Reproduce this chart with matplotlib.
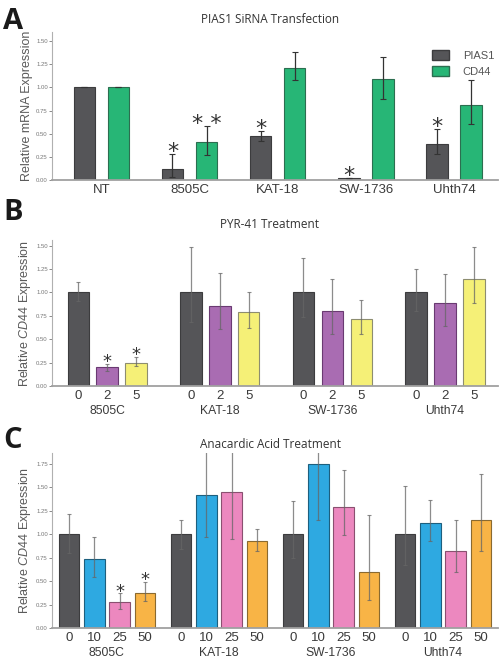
import numpy as np
import matplotlib
matplotlib.use("Agg")
import matplotlib.pyplot as plt
from matplotlib.patches import Patch

plt.rcParams["font.family"] = ["Liberation Sans", "DejaVu Sans"]
plt.rcParams["mathtext.fontset"] = "custom"
plt.rcParams["mathtext.rm"] = "Liberation Sans"
plt.rcParams["mathtext.it"] = "Liberation Sans:italic"

# Panel A: PIAS1 siRNA transfection
groups_a = ["NT", "8505C", "KAT-18", "SW-1736", "Uhth74"]
pias1 = [1.0, 0.12, 0.48, 0.025, 0.39]
pias1_lo = [0.0, 0.085, 0.06, 0.0, 0.11]
pias1_hi = [0.0, 0.16, 0.05, 0.0, 0.16]
pias1_sig = ["", "*", "*", "*", "*"]
cd44 = [1.0, 0.41, 1.21, 1.09, 0.81]
cd44_lo = [0.0, 0.14, 0.13, 0.22, 0.21]
cd44_hi = [0.0, 0.17, 0.17, 0.24, 0.27]
cd44_sig = ["", "* *", "", "", ""]

# Panel B: PYR-41 treatment (doses 0, 2, 5)
groups_bc = ["8505C", "KAT-18", "SW-1736", "Uhth74"]
doses_b = ["0", "2", "5"]
pyr_0 = [1.0, 1.0, 1.0, 1.0]
pyr_0_lo = [0.09, 0.315, 0.26, 0.20]
pyr_0_hi = [0.11, 0.49, 0.37, 0.245]
pyr_2 = [0.20, 0.85, 0.80, 0.89]
pyr_2_lo = [0.04, 0.24, 0.24, 0.25]
pyr_2_hi = [0.035, 0.36, 0.34, 0.31]
pyr_5 = [0.25, 0.79, 0.715, 1.14]
pyr_5_lo = [0.04, 0.175, 0.155, 0.25]
pyr_5_hi = [0.06, 0.21, 0.205, 0.34]
pyr_sig = [["", "", "", ""], ["*", "", "", ""], ["*", "", "", ""]]

# Panel C: anacardic acid treatment (doses 0, 10, 25, 50)
doses_c = ["0", "10", "25", "50"]
ana_0 = [1.0, 1.0, 1.0, 1.0]
ana_0_lo = [0.20, 0.16, 0.25, 0.33]
ana_0_hi = [0.21, 0.15, 0.35, 0.51]
ana_10 = [0.74, 1.42, 1.745, 1.12]
ana_10_lo = [0.19, 0.445, 0.595, 0.19]
ana_10_hi = [0.235, 0.48, 0.30, 0.245]
ana_25 = [0.28, 1.45, 1.29, 0.82]
ana_25_lo = [0.08, 0.50, 0.30, 0.22]
ana_25_hi = [0.09, 0.45, 0.39, 0.33]
ana_50 = [0.38, 0.93, 0.60, 1.15]
ana_50_lo = [0.09, 0.11, 0.30, 0.33]
ana_50_hi = [0.11, 0.13, 0.60, 0.49]
ana_sig = [["", "", "", ""], ["", "", "", ""], ["*", "", "", ""], ["*", "", "", ""]]

gray = "#555558"
text_col = "#3a3a3a"


def style_axes(ax, ymax, yticks):
    ax.set_ylim(0, ymax)
    ax.set_yticks(yticks)
    ax.set_yticklabels(["%.2f" % t for t in yticks])
    for s in ["top", "right"]:
        ax.spines[s].set_visible(False)
    ax.spines["left"].set_color("#b0b0b0")
    ax.spines["bottom"].set_color("#a0a0a0")
    ax.spines["bottom"].set_linewidth(1.3)
    ax.tick_params(axis="y", labelsize=4.3, colors="#777777", length=2, width=0.6, pad=1)
    ax.tick_params(axis="x", length=0, pad=3)


def draw_bars(ax, x, vals, lo, hi, sig, width, color, edge, ecol, ealpha, cap, star_size):
    ax.bar(x, vals, width, color=color, edgecolor=edge, linewidth=0.8, zorder=2)
    ax.errorbar(x, vals, yerr=[lo, hi], fmt="none", ecolor=ecol, alpha=ealpha,
                elinewidth=0.9, capsize=cap, capthick=0.8, zorder=3)
    for xi, v, h, s in zip(x, vals, hi, sig):
        if s:
            ax.text(xi, v + h + 0.02, s, ha="center", va="center", fontsize=star_size,
                    color="#333333", family="DejaVu Sans")


fig = plt.figure(figsize=(5, 6.59), dpi=100)

# ---- Panel A ----
ax_a = fig.add_axes([0.104, 0.7269, 0.892, 0.2246])
xa = np.arange(len(groups_a))
draw_bars(ax_a, xa - 0.193, pias1, pias1_lo, pias1_hi, pias1_sig, 0.244,
          gray, "#3c3c3e", "#333333", 1.0, 2, 16)
draw_bars(ax_a, xa + 0.193, cd44, cd44_lo, cd44_hi, cd44_sig, 0.244,
          "#27b676", "#2c6e50", "#333333", 1.0, 2, 16)
ax_a.set_xlim(-0.56, 4.5)
style_axes(ax_a, 1.6, np.arange(0, 1.51, 0.25))
ax_a.set_xticks(xa)
ax_a.set_xticklabels(groups_a, fontsize=9.5, color=text_col)
ax_a.set_ylabel("Relative mRNA Expression", fontsize=9, color="#5a5a5a", labelpad=2)
ax_a.legend(handles=[Patch(facecolor=gray, edgecolor="#3c3c3e", label="PIAS1"),
                     Patch(facecolor="#27b676", edgecolor="#2c6e50", label="CD44")],
            loc="upper left", bbox_to_anchor=(0.84, 0.915), frameon=False, fontsize=8,
            handlelength=1.55, handleheight=1.05, handletextpad=1.2, labelspacing=0.45,
            borderpad=0, labelcolor="#555555")

# ---- Panel B ----
ax_b = fig.add_axes([0.104, 0.4143, 0.892, 0.2215])
xb = np.arange(len(groups_bc))
b_series = [(pyr_0, pyr_0_lo, pyr_0_hi, gray, "#3c3c3e"),
            (pyr_2, pyr_2_lo, pyr_2_hi, "#a96cb2", "#6a3a72"),
            (pyr_5, pyr_5_lo, pyr_5_hi, "#f5f077", "#8d8d70")]
offs_b = (np.arange(3) - 1) * 0.257
for i, (v, lo, hi, c, e) in enumerate(b_series):
    draw_bars(ax_b, xb + offs_b[i], v, lo, hi, pyr_sig[i], 0.19, c, e, "#666666", 0.75, 1.5, 13)
ax_b.set_xlim(-0.49, 3.47)
style_axes(ax_b, 1.56, np.arange(0, 1.51, 0.25))
ax_b.set_xticks((xb[:, None] + offs_b[None, :]).ravel())
ax_b.set_xticklabels(doses_b * len(groups_bc), fontsize=9.5, color=text_col)
for xi, g in zip(xb, groups_bc):
    ax_b.annotate(g, xy=(xi, 0), xycoords=("data", "axes fraction"), xytext=(0, -18),
                  textcoords="offset points", ha="center", va="center", fontsize=8.7,
                  color=text_col)
ax_b.set_ylabel(r"Relative $\mathit{CD44}$ Expression", fontsize=9, color="#5a5a5a", labelpad=2)

# ---- Panel C ----
ax_c = fig.add_axes([0.104, 0.0466, 0.892, 0.2656])
c_series = [(ana_0, ana_0_lo, ana_0_hi, gray, "#3c3c3e"),
            (ana_10, ana_10_lo, ana_10_hi, "#2ea9e1", "#1d5f7e"),
            (ana_25, ana_25_lo, ana_25_hi, "#ec88bf", "#8a5070"),
            (ana_50, ana_50_lo, ana_50_hi, "#f8b446", "#8a6a30")]
offs_c = (np.arange(4) - 1.5) * 0.226
for i, (v, lo, hi, c, e) in enumerate(c_series):
    draw_bars(ax_c, xb + offs_c[i], v, lo, hi, ana_sig[i], 0.183, c, e, "#666666", 0.75, 1.5, 13)
ax_c.set_xlim(-0.49, 3.49)
style_axes(ax_c, 1.86, np.arange(0, 1.76, 0.25))
ax_c.set_xticks((xb[:, None] + offs_c[None, :]).ravel())
ax_c.set_xticklabels(doses_c * len(groups_bc), fontsize=9.5, color=text_col)
for xi, g in zip(xb, groups_bc):
    ax_c.annotate(g, xy=(xi, 0), xycoords=("data", "axes fraction"), xytext=(0, -18),
                  textcoords="offset points", ha="center", va="center", fontsize=8.7,
                  color=text_col)
ax_c.set_ylabel(r"Relative $\mathit{CD44}$ Expression", fontsize=9, color="#5a5a5a", labelpad=2)

# Titles and panel letters
for y, t in [(0.970, "PIAS1 SiRNA Transfection"), (0.660, "PYR-41 Treatment"),
             (0.326, "Anacardic Acid Treatment")]:
    fig.text(0.54, y, t, ha="center", va="center", fontsize=8.5, color="#333333",
             family="Open Sans")
for y, t in [(0.989, "A"), (0.699, "B"), (0.353, "C")]:
    fig.text(0.006, y, t, ha="left", va="top", fontsize=21, fontweight="bold",
             color="#1a1a1a", family="Open Sans")

fig.savefig("out.png", dpi=100)
